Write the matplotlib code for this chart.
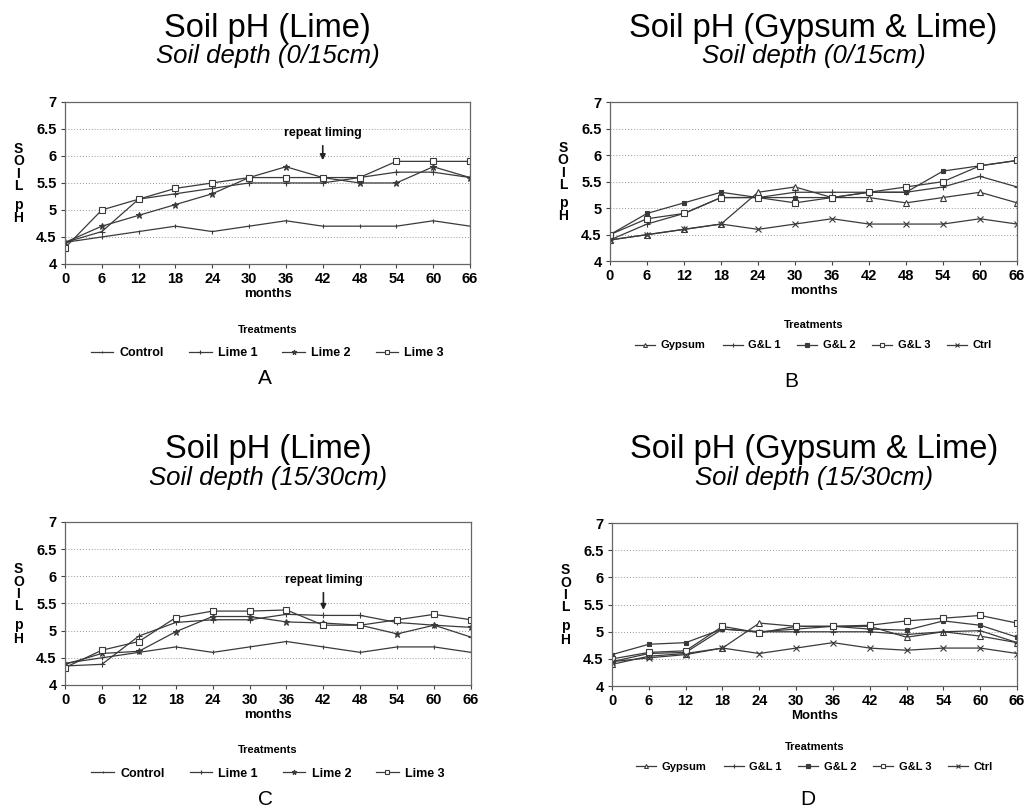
import matplotlib
matplotlib.use("Agg")
import matplotlib.pyplot as plt

plt.rcParams["font.family"] = ["Liberation Sans", "DejaVu Sans"]

months = [0, 6, 12, 18, 24, 30, 36, 42, 48, 54, 60, 66]
y_ticks = [4, 4.5, 5, 5.5, 6, 6.5, 7]
y_tick_labels = ["4", "4.5", "5", "5.5", "6", "6.5", "7"]

# Panel A: lime, 0/15 cm
a_control = [4.4, 4.5, 4.6, 4.7, 4.6, 4.7, 4.8, 4.7, 4.7, 4.7, 4.8, 4.7]
a_lime1 = [4.4, 4.6, 5.2, 5.3, 5.4, 5.5, 5.5, 5.5, 5.6, 5.7, 5.7, 5.6]
a_lime2 = [4.4, 4.7, 4.9, 5.1, 5.3, 5.6, 5.8, 5.6, 5.5, 5.5, 5.8, 5.6]
a_lime3 = [4.3, 5.0, 5.2, 5.4, 5.5, 5.6, 5.6, 5.6, 5.6, 5.9, 5.9, 5.9]

# Panel B: gypsum & lime, 0/15 cm
b_gypsum = [4.4, 4.5, 4.6, 4.7, 5.3, 5.4, 5.2, 5.2, 5.1, 5.2, 5.3, 5.1]
b_gl1 = [4.4, 4.7, 4.9, 5.2, 5.2, 5.3, 5.3, 5.3, 5.3, 5.4, 5.6, 5.4]
b_gl2 = [4.5, 4.9, 5.1, 5.3, 5.2, 5.2, 5.2, 5.3, 5.3, 5.7, 5.8, 5.9]
b_gl3 = [4.5, 4.8, 4.9, 5.2, 5.2, 5.1, 5.2, 5.3, 5.4, 5.5, 5.8, 5.9]
b_ctrl = [4.4, 4.5, 4.6, 4.7, 4.6, 4.7, 4.8, 4.7, 4.7, 4.7, 4.8, 4.7]

# Panel C: lime, 15/30 cm
c_control = [4.4, 4.5, 4.6, 4.7, 4.6, 4.7, 4.8, 4.7, 4.6, 4.7, 4.7, 4.6]
c_lime1 = [4.35, 4.38, 4.9, 5.15, 5.2, 5.2, 5.3, 5.28, 5.28, 5.15, 5.1, 4.88]
c_lime2 = [4.38, 4.58, 4.62, 4.98, 5.26, 5.26, 5.16, 5.14, 5.1, 4.94, 5.1, 5.06]
c_lime3 = [4.32, 4.64, 4.8, 5.24, 5.36, 5.36, 5.38, 5.1, 5.1, 5.2, 5.3, 5.2]

# Panel D: gypsum & lime, 15/30 cm
d_gypsum = [4.4, 4.55, 4.6, 4.7, 5.16, 5.1, 5.1, 5.1, 4.9, 5.0, 4.92, 4.8]
d_gl1 = [4.45, 4.6, 4.62, 5.05, 5.0, 5.0, 5.0, 5.0, 4.95, 5.0, 5.02, 4.8]
d_gl2 = [4.58, 4.77, 4.8, 5.05, 5.0, 5.05, 5.1, 5.05, 5.03, 5.2, 5.12, 4.9]
d_gl3 = [4.5, 4.62, 4.65, 5.1, 4.98, 5.1, 5.1, 5.12, 5.2, 5.25, 5.3, 5.16]
d_ctrl = [4.45, 4.52, 4.58, 4.7, 4.6, 4.7, 4.8, 4.7, 4.66, 4.7, 4.7, 4.6]

lime_names = ["Control", "Lime 1", "Lime 2", "Lime 3"]
gl_names = ["Gypsum", "G&L 1", "G&L 2", "G&L 3", "Ctrl"]

LINE = "#3a3a3a"
lime_styles = [
    dict(marker="|", ms=3, mfc=LINE),
    dict(marker="+", ms=5, mfc=LINE),
    dict(marker="*", ms=5, mfc=LINE),
    dict(marker="s", ms=4, mfc="white"),
]
gl_styles = [
    dict(marker="^", ms=4, mfc="white"),
    dict(marker="+", ms=5, mfc=LINE),
    dict(marker="s", ms=3.5, mfc=LINE),
    dict(marker="s", ms=4, mfc="white"),
    dict(marker="x", ms=4, mfc=LINE),
]

fig = plt.figure(figsize=(10.24, 8.11), dpi=100)

# rect, title, subtitle, names, series, styles, xlabel, letter,
# title/subtitle baselines (figure fraction), letter pos, legend options
panels = [
    ([0.0635, 0.6745, 0.3955, 0.1998], "Soil pH (Lime)", "Soil depth (0/15cm)",
     lime_names, [a_control, a_lime1, a_lime2, a_lime3], lime_styles, "months", "A",
     (0.9544, 0.9223), (0.259, 0.533), (9, 2.0, -0.305, 1.0)),
    ([0.5957, 0.678, 0.3975, 0.196], "Soil pH (Gypsum & Lime)", "Soil depth (0/15cm)",
     gl_names, [b_gypsum, b_gl1, b_gl2, b_gl3, b_ctrl], gl_styles, "months", "B",
     (0.9544, 0.9223), (0.773, 0.529), (8, 1.5, -0.31, 0.9)),
    ([0.0635, 0.1554, 0.3965, 0.201], "Soil pH (Lime)", "Soil depth (15/30cm)",
     lime_names, [c_control, c_lime1, c_lime2, c_lime3], lime_styles, "months", "C",
     (0.4353, 0.402), (0.259, 0.014), (9, 2.0, -0.30, 1.0)),
    ([0.5977, 0.154, 0.3955, 0.201], "Soil pH (Gypsum & Lime)", "Soil depth (15/30cm)",
     gl_names, [d_gypsum, d_gl1, d_gl2, d_gl3, d_ctrl], gl_styles, "Months", "D",
     (0.4353, 0.402), (0.789, 0.014), (8, 1.5, -0.28, 0.9)),
]

axes = []
for (rect, title, sub, names, series, styles, xlab, letter,
     tpos, lpos, legopt) in panels:
    ax = fig.add_axes(rect)
    axes.append(ax)
    for name, vals, st in zip(names, series, styles):
        ax.plot(months, vals, color=LINE, lw=0.9, mec=LINE, mew=0.8,
                label=name, **st)
    ax.set_xlim(0, 66)
    ax.set_ylim(4, 7)
    ax.set_xticks(months)
    ax.set_yticks(y_ticks)
    ax.set_yticklabels(y_tick_labels)
    ax.grid(axis="y", ls=(0, (1, 2)), color="#999999", lw=0.7)
    for s in ax.spines.values():
        s.set_color("#666666")
        s.set_linewidth(0.9)
    ax.tick_params(labelsize=10.5, length=3, color="#444444", pad=3)
    for lab in ax.get_xticklabels() + ax.get_yticklabels():
        lab.set_fontweight("bold")
    ax.set_xlabel(xlab, fontsize=9.5, fontweight="bold", labelpad=1)

    # stacked y label "SOIL pH"
    ax.text(-0.115, 0.596, "S\nO\nI\nL", transform=ax.transAxes,
            ha="center", va="center", fontsize=10, fontweight="bold",
            linespacing=0.85)
    ax.text(-0.115, 0.325, "p\nH", transform=ax.transAxes,
            ha="center", va="center", fontsize=10, fontweight="bold",
            linespacing=0.95)

    fs, cs, anchor_y, lsp = legopt
    leg = ax.legend(loc="upper center", bbox_to_anchor=(0.5, anchor_y),
                    ncol=len(names), frameon=False, title="Treatments",
                    fontsize=fs, title_fontproperties=dict(size=8, weight="bold"),
                    handlelength=1.8, columnspacing=cs, handletextpad=0.5,
                    labelspacing=lsp, markerscale=0.7)
    for t in leg.get_texts():
        t.set_fontweight("bold")

    cx = rect[0] + rect[2] / 2
    fig.text(cx, tpos[0], title, ha="center", va="baseline", fontsize=23.5)
    fig.text(cx, tpos[1], sub, ha="center", va="baseline", fontsize=18.5,
             style="italic")
    fig.text(lpos[0], lpos[1], letter, ha="center", va="center", fontsize=15)

# repeat liming annotations
for ax, ty, y0, y1 in [(axes[0], 6.43, 6.24, 5.87), (axes[2], 5.93, 5.75, 5.33)]:
    ax.text(42, ty, "repeat liming", ha="center", va="center", fontsize=9,
            fontweight="bold")
    ax.annotate("", xy=(42, y1), xytext=(42, y0),
                arrowprops=dict(arrowstyle="-|>", color="#222222", lw=1.2,
                                mutation_scale=8))

fig.savefig("out.png", dpi=100, facecolor="white")
